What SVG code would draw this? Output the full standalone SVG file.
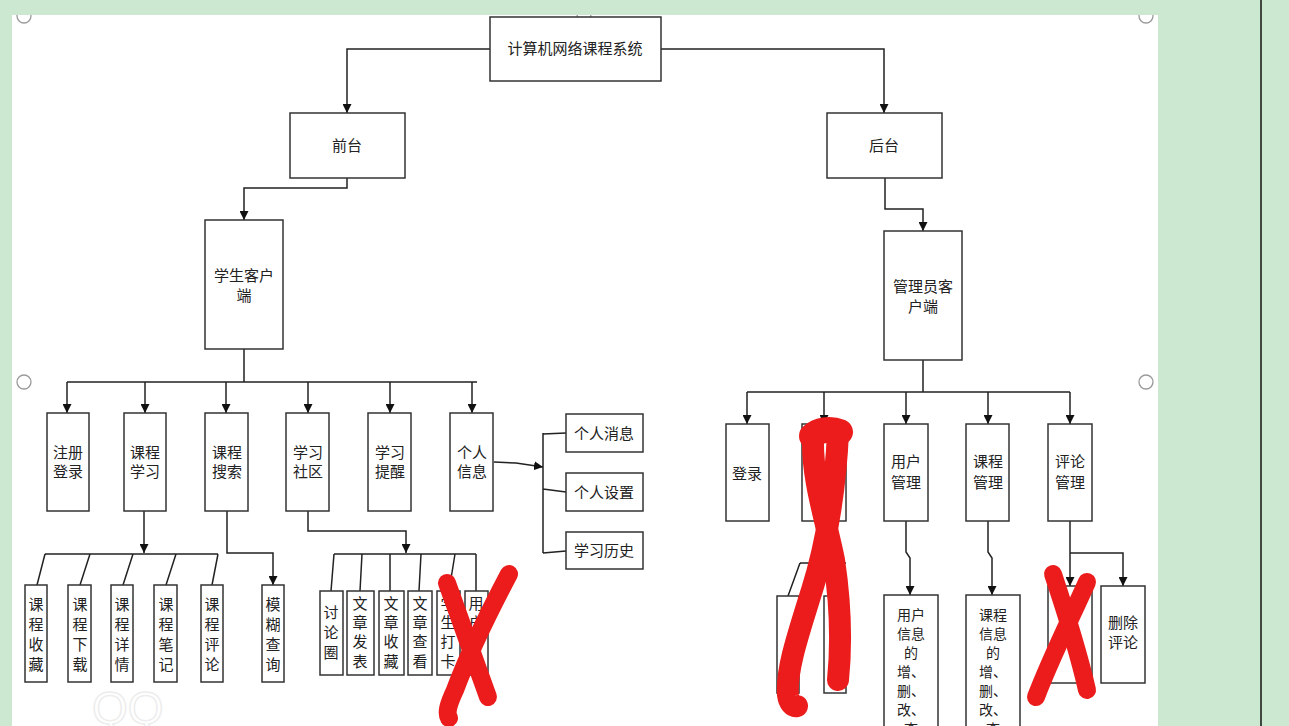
<svg xmlns="http://www.w3.org/2000/svg" width="1289" height="726" viewBox="0 0 1289 726">
<defs>
<style>
.bx{fill:#fff;stroke:#333;stroke-width:1.5}
.ln{fill:none;stroke:#222;stroke-width:1.5}
.ar{fill:none;stroke:#222;stroke-width:1.5;marker-end:url(#ah)}
.t{font-family:"Noto Sans CJK SC","Noto Sans",sans-serif;font-size:15px;fill:#222;text-anchor:middle}
.s{font-size:14px}
.red{fill:none;stroke:#ec1c1c;stroke-linecap:round;stroke-linejoin:round}
.hd{fill:#fff;stroke:#9a9a9a;stroke-width:1.3}
</style>
<marker id="ah" viewBox="0 0 10 10" refX="10" refY="5" markerWidth="9" markerHeight="9" markerUnits="userSpaceOnUse" orient="auto"><path d="M0,0 L10,5 L0,10 z" fill="#111"/></marker>
<clipPath id="cv"><rect x="12" y="15" width="1146" height="711"/></clipPath>
</defs>
<rect x="0" y="0" width="1289" height="726" fill="#cde8d0"/>
<rect x="12" y="15" width="1146" height="711" fill="#fff"/>
<line x1="1261" y1="0" x2="1261" y2="726" stroke="#111" stroke-width="1.5"/>
<g clip-path="url(#cv)">
<circle class="hd" cx="24" cy="16" r="7"/>
<circle class="hd" cx="584" cy="14" r="7"/>
<circle class="hd" cx="1146" cy="16" r="7"/>
</g>
<circle class="hd" cx="24" cy="382" r="7"/>
<circle class="hd" cx="1146" cy="382" r="7"/>
<text x="92" y="724" font-family="Liberation Sans,sans-serif" font-size="46" fill="none" stroke="#ededed" stroke-width="1.5">QQ</text>

<g id="connectors">
<path class="ar" d="M490,49 H347 V113"/>
<path class="ar" d="M661,49 H884 V113"/>
<path class="ar" d="M347,178 V188 H244 V220"/>
<path class="ln" d="M244,349 V382 M67,382 H477"/>
<path class="ar" d="M67,382 V413"/>
<path class="ar" d="M145,382 V413"/>
<path class="ar" d="M226,382 V413"/>
<path class="ar" d="M308,382 V413"/>
<path class="ar" d="M390,382 V413"/>
<path class="ar" d="M472,382 V413"/>
<path class="ar" d="M494,462 L516,463 L543,467"/>
<path class="ln" d="M543,433 V553 M543,434 L566,433 M543,489 L566,492 M543,553 L566,551"/>
<path class="ar" d="M144,511 V553"/>
<path class="ln" d="M45,554 H218 M45,554 L37,585 M90,554 L80,585 M133,554 L123,585 M176,554 L166,585 M218,554 L212,585"/>
<path class="ar" d="M227,511 V553 H273 V585"/>
<path class="ar" d="M308,511 V531 H406 V553"/>
<path class="ln" d="M334,554 H476 M334,554 L331,591 M362,554 L360,591 M390,554 L390,591 M421,554 L419,591 M455,554 L449,591 M476,554 V591"/>
<path class="ar" d="M885,178 V209 H923 V231"/>
<path class="ln" d="M923,360 V392 M747,392 H1070"/>
<path class="ar" d="M747,392 V424"/>
<path class="ar" d="M824,392 V424"/>
<path class="ar" d="M906,392 V424"/>
<path class="ar" d="M988,392 V424"/>
<path class="ar" d="M1070,392 V424"/>
<path class="ar" d="M906,521 V552 L910,558 V595"/>
<path class="ar" d="M988,521 V552 L992,558 V595"/>
<path class="ar" d="M1070,521 V586"/>
<path class="ar" d="M1070,553 H1123 V586"/>
<path class="ar" d="M824,521 V563"/>
<path class="ln" d="M800,563 H846 M800,563 L788,596"/>
</g>

<g id="n-root"><rect class="bx" x="490" y="17" width="171" height="64"/><text class="t" x="575" y="54">计算机网络课程系统</text></g>
<g id="n-front"><rect class="bx" x="290" y="113" width="115" height="65"/><text class="t" x="347" y="151">前台</text></g>
<g id="n-back"><rect class="bx" x="827" y="113" width="115" height="65"/><text class="t" x="884" y="151">后台</text></g>
<g id="n-student"><rect class="bx" x="205" y="220" width="78" height="129"/><text class="t" x="244" y="281">学生客户</text><text class="t" x="244" y="301">端</text></g>
<g id="n-admin"><rect class="bx" x="884" y="231" width="78" height="129"/><text class="t" x="923" y="292">管理员客</text><text class="t" x="923" y="312">户端</text></g>

<g id="n-reg"><rect class="bx" x="47" y="413" width="42" height="98"/><text class="t" x="68" y="458">注册</text><text class="t" x="68" y="477">登录</text></g>
<g id="n-learn"><rect class="bx" x="124" y="413" width="42" height="98"/><text class="t" x="145" y="458">课程</text><text class="t" x="145" y="477">学习</text></g>
<g id="n-search"><rect class="bx" x="205" y="413" width="43" height="98"/><text class="t" x="227" y="458">课程</text><text class="t" x="227" y="477">搜索</text></g>
<g id="n-comm"><rect class="bx" x="286" y="413" width="43" height="98"/><text class="t" x="308" y="458">学习</text><text class="t" x="308" y="477">社区</text></g>
<g id="n-remind"><rect class="bx" x="368" y="413" width="43" height="98"/><text class="t" x="390" y="458">学习</text><text class="t" x="390" y="477">提醒</text></g>
<g id="n-info"><rect class="bx" x="450" y="413" width="43" height="98"/><text class="t" x="472" y="458">个人</text><text class="t" x="472" y="477">信息</text></g>

<g id="n-msg"><rect class="bx" x="566" y="414" width="77" height="38"/><text class="t" x="604" y="439">个人消息</text></g>
<g id="n-set"><rect class="bx" x="566" y="473" width="77" height="38"/><text class="t" x="604" y="498">个人设置</text></g>
<g id="n-hist"><rect class="bx" x="566" y="532" width="77" height="37"/><text class="t" x="604" y="556">学习历史</text></g>

<g id="n-fav"><rect class="bx" x="25" y="585" width="22" height="97"/><text class="t"><tspan x="36" y="610">课</tspan><tspan x="36" y="630">程</tspan><tspan x="36" y="650">收</tspan><tspan x="36" y="670">藏</tspan></text></g>
<g id="n-down"><rect class="bx" x="68" y="585" width="23" height="97"/><text class="t"><tspan x="80" y="610">课</tspan><tspan x="80" y="630">程</tspan><tspan x="80" y="650">下</tspan><tspan x="80" y="670">载</tspan></text></g>
<g id="n-detail"><rect class="bx" x="111" y="585" width="22" height="97"/><text class="t"><tspan x="122" y="610">课</tspan><tspan x="122" y="630">程</tspan><tspan x="122" y="650">详</tspan><tspan x="122" y="670">情</tspan></text></g>
<g id="n-note"><rect class="bx" x="154" y="585" width="23" height="97"/><text class="t"><tspan x="166" y="610">课</tspan><tspan x="166" y="630">程</tspan><tspan x="166" y="650">笔</tspan><tspan x="166" y="670">记</tspan></text></g>
<g id="n-review"><rect class="bx" x="201" y="585" width="22" height="97"/><text class="t"><tspan x="212" y="610">课</tspan><tspan x="212" y="630">程</tspan><tspan x="212" y="650">评</tspan><tspan x="212" y="670">论</tspan></text></g>
<g id="n-fuzzy"><rect class="bx" x="262" y="585" width="22" height="97"/><text class="t"><tspan x="273" y="610">模</tspan><tspan x="273" y="630">糊</tspan><tspan x="273" y="650">查</tspan><tspan x="273" y="670">询</tspan></text></g>

<g id="n-circle"><rect class="bx" x="320" y="591" width="23" height="84"/><text class="t"><tspan x="331" y="618">讨</tspan><tspan x="331" y="638">论</tspan><tspan x="331" y="658">圈</tspan></text></g>
<g id="n-pub"><rect class="bx" x="347" y="591" width="27" height="84"/><text class="t"><tspan x="360" y="609">文</tspan><tspan x="360" y="628">章</tspan><tspan x="360" y="647">发</tspan><tspan x="360" y="667">表</tspan></text></g>
<g id="n-col"><rect class="bx" x="379" y="591" width="25" height="84"/><text class="t"><tspan x="391" y="609">文</tspan><tspan x="391" y="628">章</tspan><tspan x="391" y="647">收</tspan><tspan x="391" y="667">藏</tspan></text></g>
<g id="n-view"><rect class="bx" x="408" y="591" width="24" height="84"/><text class="t"><tspan x="420" y="609">文</tspan><tspan x="420" y="628">章</tspan><tspan x="420" y="647">查</tspan><tspan x="420" y="667">看</tspan></text></g>
<g id="n-clock"><rect class="bx" x="437" y="591" width="23" height="84"/><text class="t"><tspan x="448" y="609">学</tspan><tspan x="448" y="628">生</tspan><tspan x="448" y="647">打</tspan><tspan x="448" y="667">卡</tspan></text></g>
<g id="n-user"><rect class="bx" x="465" y="591" width="23" height="84"/><text class="t"><tspan x="476" y="609">用</tspan><tspan x="476" y="628">户</tspan></text></g>

<g id="n-login"><rect class="bx" x="726" y="424" width="43" height="97"/><text class="t" x="747" y="479">登录</text></g>
<g id="n-hidden"><rect class="bx" x="802" y="424" width="44" height="97"/></g>
<g id="n-um"><rect class="bx" x="884" y="424" width="44" height="97"/><text class="t" x="906" y="467">用户</text><text class="t" x="906" y="488">管理</text></g>
<g id="n-cm"><rect class="bx" x="966" y="424" width="43" height="97"/><text class="t" x="988" y="467">课程</text><text class="t" x="988" y="488">管理</text></g>
<g id="n-rm"><rect class="bx" x="1048" y="424" width="44" height="97"/><text class="t" x="1070" y="467">评论</text><text class="t" x="1070" y="488">管理</text></g>

<g id="n-h1"><rect class="bx" x="777" y="596" width="22" height="97"/></g>
<g id="n-h2"><rect class="bx" x="824" y="596" width="22" height="97"/></g>
<g id="n-uinfo"><rect class="bx" x="884" y="595" width="54" height="140"/><text class="t s"><tspan x="911" y="620">用户</tspan><tspan x="911" y="639">信息</tspan><tspan x="911" y="658">的</tspan><tspan x="911" y="677">增、</tspan><tspan x="911" y="696">删、</tspan><tspan x="911" y="715">改、</tspan><tspan x="911" y="734">查</tspan></text></g>
<g id="n-cinfo"><rect class="bx" x="966" y="595" width="54" height="140"/><text class="t s"><tspan x="993" y="620">课程</tspan><tspan x="993" y="639">信息</tspan><tspan x="993" y="658">的</tspan><tspan x="993" y="677">增、</tspan><tspan x="993" y="696">删、</tspan><tspan x="993" y="715">改、</tspan><tspan x="993" y="734">查</tspan></text></g>
<g id="n-h3"><rect class="bx" x="1048" y="586" width="44" height="97"/></g>
<g id="n-del"><rect class="bx" x="1101" y="586" width="44" height="97"/><text class="t" x="1123" y="628">删除</text><text class="t" x="1123" y="648">评论</text></g>

<g id="scribbles">
<path class="red" stroke-width="18" d="M447,583 C460,620 475,660 488,697"/>
<path class="red" stroke-width="18" d="M509,574 C490,610 470,650 455,690 C448,705 446,713 449,718"/>
<path class="red" stroke-width="22" d="M838,432 C836,480 828,540 812,590 C798,635 786,670 788,695 C789,703 793,707 797,706"/>
<path class="red" stroke-width="22" d="M813,438 C812,480 826,520 834,560 C840,600 842,640 838,680"/>
<path class="red" stroke-width="26" d="M812,436 C818,430 830,428 840,432"/>
<path class="red" stroke-width="18" d="M1053,574 C1065,610 1078,650 1087,690"/>
<path class="red" stroke-width="18" d="M1087,582 C1070,620 1050,660 1036,697"/>
</g>
</svg>
